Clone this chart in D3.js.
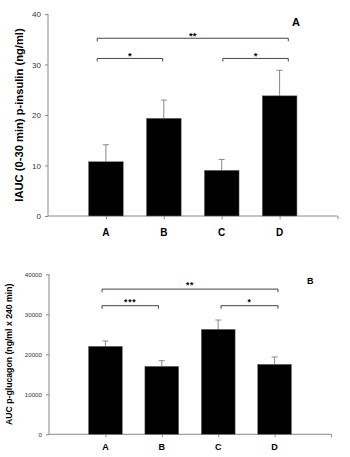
<!DOCTYPE html>
<html><head><meta charset="utf-8">
<script src="https://cdn.jsdelivr.net/npm/d3@7"></script>
<style>body{margin:0;background:#fff}svg{display:block}</style>
</head><body>
<script>
const categories = ["A","B","C","D"];
const insulin = [10.75, 19.35, 9.05, 23.8];
const insulinErr = [3.35, 3.6, 2.15, 5.05];
const insulinTicks = [0,10,20,30,40];
const glucagon = [22000, 17000, 26250, 17500];
const glucagonErr = [1325, 1400, 2325, 1825];
const glucagonTicks = [0,10000,20000,30000,40000];
// significance brackets: [from category, to category, label, level]
const insulinSig = [["A","D","**",35.2],["A","B","*",31.2],["C","D","*",31.2]];
const glucagonSig = [["A","D","**",36300],["A","B","***",32150],["C","D","*",32150]];

const svg = d3.select("body").append("svg").attr("width",350).attr("height",457);
const font = "Liberation Sans, Arial, sans-serif";

function panel(o){
  const g = svg.append("g");
  const x = d3.scaleLinear().domain([0,5]).range([o.x0,o.x1]);
  const y = d3.scaleLinear().domain([0,40*o.unit]).range([o.yb,o.yt]);
  const step = x(1)-x(0);
  const bw = step*0.6;
  const pos = c => categories.indexOf(c)+1;
  // y axis
  const ya = g.append("g").attr("transform",`translate(${o.x0},0)`)
    .call(d3.axisLeft(y).tickValues(o.ticks).tickSize(3).tickPadding(o.tp).tickFormat(d3.format("d")));
  ya.select(".domain").attr("stroke","#888").attr("d",`M0,${o.yt}V${o.yb}`);
  ya.selectAll(".tick line").attr("stroke","#888");
  ya.selectAll("text").attr("font-family",font).attr("font-size",o.tfs).attr("fill","#333");
  // x axis
  const xa = g.append("g").attr("transform",`translate(0,${o.yb})`)
    .call(d3.axisBottom(x).tickValues([1,2,3,4,5]).tickSize(3).tickFormat(""));
  xa.select(".domain").attr("stroke","#888").attr("d",`M${o.x0},0H${o.x1}`);
  xa.selectAll(".tick line").attr("stroke","#888");
  g.selectAll(".cat").data(categories).join("text")
    .attr("x",d=>x(pos(d))).attr("y",o.catY).attr("text-anchor","middle")
    .attr("font-family",font).attr("font-weight","bold").attr("font-size",o.cfs).text(d=>d);
  // error bars
  const eg = g.append("g").attr("stroke","#888").attr("stroke-width",1);
  o.vals.forEach((v,i)=>{
    const cx = x(i+1), t = y(v+o.err[i]);
    eg.append("line").attr("x1",cx).attr("x2",cx).attr("y1",y(v)).attr("y2",t);
    eg.append("line").attr("x1",cx-3).attr("x2",cx+3).attr("y1",t).attr("y2",t);
  });
  // bars
  g.selectAll(".bar").data(o.vals).join("rect")
    .attr("x",(d,i)=>x(i+1)-bw/2).attr("width",bw)
    .attr("y",d=>y(d)).attr("height",d=>y(0)-y(d))
    .attr("fill","#000").attr("stroke","#777").attr("stroke-width",0.5);
  // brackets
  o.sig.forEach(s=>{
    const a = pos(s[0]), b = pos(s[1]);
    const xa1 = x(a===1 ? a-o.off : a + (b===4 && a===3 ? o.offC : 0));
    const xb1 = x(b===4 ? b+o.off : b - o.offB);
    const yy = y(s[3]);
    g.append("path").attr("fill","none").attr("stroke","#444").attr("stroke-width",1)
      .attr("d",`M${xa1},${yy+3}V${yy}H${xb1}V${yy+3}`);
    g.append("text").attr("x",(xa1+xb1)/2).attr("y",yy+o.sdy).attr("text-anchor","middle")
      .attr("font-family",font).attr("font-weight","bold").attr("font-size",o.sfs)
      .attr("letter-spacing",o.sls).text(s[2]);
  });
  // y title
  g.append("text").attr("transform",`translate(${o.titleX},${(o.yt+o.yb)/2}) rotate(-90)`)
    .attr("text-anchor","middle").attr("dominant-baseline","central")
    .attr("font-family",font).attr("font-weight","bold").attr("font-size",o.yfs).text(o.title);
  g.append("text").attr("x",o.lx).attr("y",o.ly).attr("font-family",font)
    .attr("font-weight","bold").attr("font-size",o.lfs).text(o.label);
}

panel({x0:48,x1:337.5,yt:14,yb:216,unit:1,ticks:insulinTicks,vals:insulin,err:insulinErr,sig:insulinSig,
  tp:4,tfs:8,cfs:10,catY:236,sfs:9.5,sdy:0.5,sls:0,yfs:11.2,titleX:19,title:"IAUC (0-30 min) p-insulin (ng/ml)",
  label:"A",lx:292,ly:26,lfs:11,off:0.15,offB:0.02,offC:0.02});
panel({x0:49,x1:331,yt:274.3,yb:434.3,unit:1000,ticks:glucagonTicks,vals:glucagon,err:glucagonErr,sig:glucagonSig,
  tp:4,tfs:6.2,cfs:9,catY:450,sfs:8.5,sdy:-1,sls:0.8,yfs:8.7,titleX:8.5,title:"AUC p-glucagon (ng/ml x 240 min)",
  label:"B",lx:307,ly:283.5,lfs:9,off:0.06,offB:0.06,offC:0.05});
</script>
</body></html>
